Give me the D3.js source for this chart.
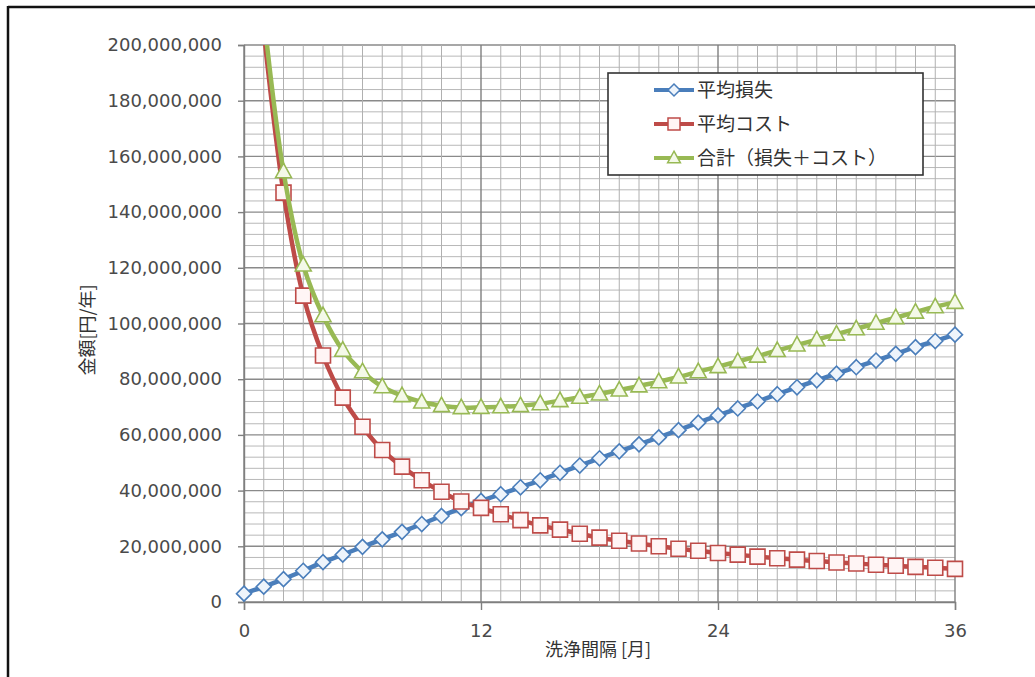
<!DOCTYPE html>
<html>
<head>
<meta charset="utf-8">
<script src="https://cdn.jsdelivr.net/npm/d3@7"></script>
<style>
  html, body { margin: 0; padding: 0; background: #fff; }
  svg { display: block; }
</style>
</head>
<body>
<svg id="chart" width="1035" height="677"></svg>
<script>
// ---- data (values in yen/year) ----
const months = d3.range(0, 37);
const lossM = [3, 5.5, 8.2, 11.2, 14.3, 17, 19.8, 22.5, 25.2, 28, 30.9, 33.7, 36.3,
  38.7, 41.2, 43.7, 46.4, 49, 51.6, 54.1, 56.6, 59.1, 61.7, 64.4, 67, 69.5, 72,
  74.6, 77.1, 79.6, 82, 84.3, 86.7, 89.1, 91.5, 93.7, 96];
const costM = [null, 205, 147, 110, 88.5, 73.4, 62.9, 54.6, 48.6, 43.7, 39.6, 36.1, 33.8,
  31.5, 29.4, 27.5, 26, 24.5, 23.1, 22, 21, 20, 19.1, 18.4, 17.6, 17, 16.3,
  15.7, 15.2, 14.7, 14.2, 13.8, 13.4, 13, 12.6, 12.3, 11.9];
const totalM = [null, 210.5, 154.5, 121, 102.8, 90.4, 82.7, 77.3, 74.1, 71.8, 70.5, 69.8, 69.9,
  70.1, 70.5, 71.2, 72.3, 73.5, 74.7, 76.1, 77.6, 79.1, 80.8, 82.7, 84.5, 86.4, 88.3,
  90.3, 92.3, 94.2, 96.2, 98.1, 100.1, 102.1, 104.1, 106, 107.6];
const seriesNames = ["平均損失", "平均コスト", "合計（損失＋コスト）"];
const yTicks = d3.range(0, 200000001, 20000000);
const xTicks = [0, 12, 24, 36];
const xTitle = "洗浄間隔 [月]";
const yTitle = "金額[円/年]";

// ---- layout ----
const svg = d3.select("#chart");
const L = 244, R = 955, T = 45, B = 602;
const x = d3.scaleLinear().domain([0, 36]).range([L, R]);
const y = d3.scaleLinear().domain([0, 200000000]).range([B, T]);

// frame
svg.append("line").attr("x1", 8).attr("x2", 1035).attr("y1", 7).attr("y2", 7)
  .attr("stroke", "#111").attr("stroke-width", 2.5);
svg.append("line").attr("x1", 8).attr("x2", 8).attr("y1", 6).attr("y2", 677)
  .attr("stroke", "#111").attr("stroke-width", 2.5);

// grid
const grid = svg.append("g");
d3.range(0, 200000001, 4000000).forEach(v => {
  const major = v % 20000000 === 0;
  grid.append("line").attr("x1", L).attr("x2", R).attr("y1", y(v)).attr("y2", y(v))
    .attr("stroke", major ? "#8a8a8a" : "#b8b8b8").attr("stroke-width", major ? 1.4 : 1);
});
months.forEach(m => {
  const major = m % 12 === 0;
  grid.append("line").attr("x1", x(m)).attr("x2", x(m)).attr("y1", T).attr("y2", B)
    .attr("stroke", major ? "#7f7f7f" : "#b0b0b0").attr("stroke-width", major ? 1.4 : 1);
});

// axes
const yAxis = d3.axisLeft(y).tickValues(yTicks).tickSize(6).tickPadding(16)
  .tickFormat(d3.format(","));
const gy = svg.append("g").attr("transform", `translate(${L},0)`).call(yAxis);
gy.select(".domain").attr("stroke", "#7f7f7f").attr("stroke-width", 1.4);
gy.selectAll(".tick line").attr("stroke", "#7f7f7f").attr("stroke-width", 1.4);
gy.selectAll("text").attr("font-family", "'DejaVu Sans', sans-serif")
  .attr("font-size", 18).attr("fill", "#4a4a4a");

const xAxis = d3.axisBottom(x).tickValues(xTicks).tickSize(8).tickPadding(14);
const gx = svg.append("g").attr("transform", `translate(0,${B})`).call(xAxis);
gx.select(".domain").attr("stroke", "#7f7f7f").attr("stroke-width", 1.4);
gx.selectAll(".tick line").attr("stroke", "#7f7f7f").attr("stroke-width", 1.4);
gx.selectAll("text").attr("font-family", "'DejaVu Sans', sans-serif")
  .attr("font-size", 18).attr("fill", "#4a4a4a");

// axis titles
svg.append("text").attr("x", 598).attr("y", 656).attr("text-anchor", "middle")
  .attr("font-family", "'Noto Sans CJK JP', sans-serif").attr("font-size", 18)
  .attr("fill", "#333").text(xTitle);
svg.append("text").attr("transform", "translate(94,330) rotate(-90)")
  .attr("text-anchor", "middle")
  .attr("font-family", "'Noto Sans CJK JP', sans-serif").attr("font-size", 18)
  .attr("fill", "#333").text(yTitle);

// clip
svg.append("clipPath").attr("id", "plotclip").append("rect")
  .attr("x", L - 10).attr("y", T).attr("width", R - L + 20).attr("height", B - T + 10);

const series = [
  { name: seriesNames[0], vals: lossM, color: "#4a7ebb", fill: "#eef4fb", shape: "diamond" },
  { name: seriesNames[1], vals: costM, color: "#be4b48", fill: "#fff5f5", shape: "square" },
  { name: seriesNames[2], vals: totalM, color: "#98b954", fill: "#f4f9e8", shape: "triangle" }
];

function markerPath(shape, k) {
  k = k || 1;
  if (shape === "diamond") return `M0,${-7.5*k}L${7.5*k},0L0,${7.5*k}L${-7.5*k},0Z`;
  if (shape === "square") return `M${-7.5*k},${-7.5*k}H${7.5*k}V${7.5*k}H${-7.5*k}Z`;
  return `M0,${-8.5*k}L${8*k},${6*k}L${-8*k},${6*k}Z`;
}

const line = d3.line()
  .defined(d => d.v != null)
  .x(d => x(d.m)).y(d => y(d.v * 1e6))
  .curve(d3.curveCatmullRom.alpha(0.5));

const plot = svg.append("g").attr("clip-path", "url(#plotclip)");
series.forEach(s => {
  const pts = months.map((m, i) => ({ m, v: s.vals[i] }));
  plot.append("path").datum(pts).attr("d", line)
    .attr("fill", "none").attr("stroke", s.color).attr("stroke-width", 4.5)
    .attr("stroke-linejoin", "round");
  plot.selectAll(null).data(pts.filter(d => d.v != null && d.v <= 200))
    .enter().append("path")
    .attr("transform", d => `translate(${x(d.m)},${y(d.v * 1e6)})`)
    .attr("d", markerPath(s.shape))
    .attr("fill", s.fill).attr("stroke", s.color).attr("stroke-width", 1.6);
});

// legend
const lg = svg.append("g");
lg.append("rect").attr("x", 608).attr("y", 73).attr("width", 315).attr("height", 102)
  .attr("fill", "#fff").attr("stroke", "#333").attr("stroke-width", 1.6);
series.forEach((s, i) => {
  const cy = 90 + i * 34;
  lg.append("line").attr("x1", 654).attr("x2", 694).attr("y1", cy).attr("y2", cy)
    .attr("stroke", s.color).attr("stroke-width", 4);
  lg.append("path").attr("transform", `translate(674,${cy})`).attr("d", markerPath(s.shape, 0.8))
    .attr("fill", s.fill).attr("stroke", s.color).attr("stroke-width", 1.5);
  lg.append("text").attr("x", 697).attr("y", cy + 7)
    .attr("font-family", "'Noto Sans CJK JP', sans-serif").attr("font-size", 19)
    .attr("fill", "#333").text(s.name);
});
</script>
</body>
</html>
